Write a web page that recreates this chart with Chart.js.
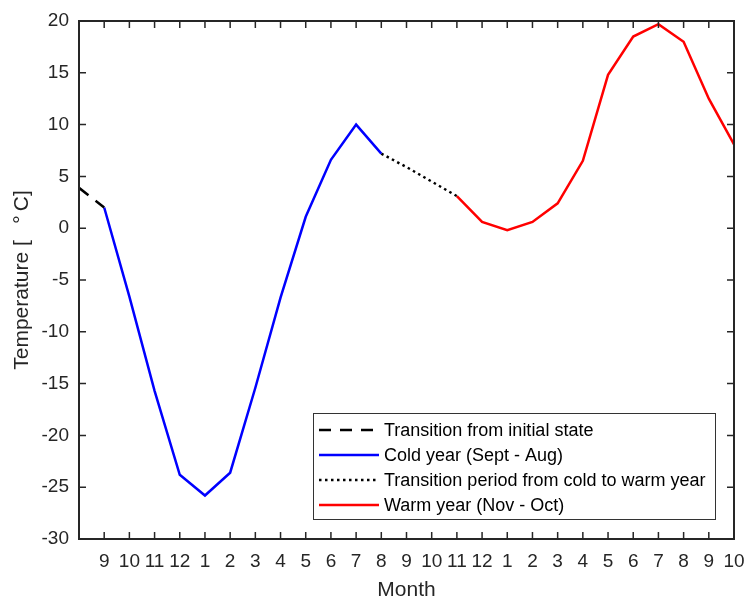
<!DOCTYPE html>
<html><head><meta charset="utf-8">
<script src="https://cdn.jsdelivr.net/npm/chart.js@4.4.0/dist/chart.umd.min.js"></script>
<style>html,body{margin:0;padding:0;background:#fff}#wrap{width:745px;height:598px;position:relative}</style>
</head><body><div id="wrap"><canvas id="c" width="745" height="598"></canvas></div>
<script>
// ---- data ----
const monthTicks = [9,10,11,12,1,2,3,4,5,6,7,8,9,10,11,12,1,2,3,4,5,6,7,8,9,10];
const initialX = [-1, 0];
const initialTemp = [3.9, 2.0];
const coldX = [0,1,2,3,4,5,6,7,8,9,10,11];
const coldTemp = [2.0,-6.6,-15.7,-23.8,-25.8,-23.6,-15.4,-6.7,1.1,6.6,10.0,7.2];
const transX = [11,12,13,14];
const transTemp = [7.2,5.9,4.5,3.1];
const warmX = [14,15,16,17,18,19,20,21,22,23,24,25];
const warmTemp = [3.1,0.6,-0.2,0.6,2.4,6.5,14.8,18.5,19.7,18.0,12.5,8.1];
const yTickValues = [20,15,10,5,0,-5,-10,-15,-20,-25,-30];
const legendLabels = ['Transition from initial state','Cold year (Sept - Aug)','Transition period from cold to warm year','Warm year (Nov - Oct)'];

const AX = '#262626';
const FONT = 'Liberation Sans, Arial, Helvetica, sans-serif';
const pts = (xs, ys) => xs.map((x, i) => ({x, y: ys[i]}));

const frame = {
  id: 'frame',
  afterDatasetsDraw(chart) {
    const {ctx, chartArea: a, scales: {x, y}} = chart;
    ctx.save();
    ctx.strokeStyle = AX; ctx.lineWidth = 2;
    ctx.strokeRect(a.left, a.top, a.right - a.left, a.bottom - a.top);
    ctx.lineWidth = 1.5;
    ctx.beginPath();
    const tl = 7;
    for (let i = 0; i < monthTicks.length; i++) {
      const px = x.getPixelForValue(i);
      ctx.moveTo(px, a.bottom); ctx.lineTo(px, a.bottom - tl);
      ctx.moveTo(px, a.top); ctx.lineTo(px, a.top + tl);
    }
    yTickValues.forEach(v => {
      const py = y.getPixelForValue(v);
      ctx.moveTo(a.left, py); ctx.lineTo(a.left + tl, py);
      ctx.moveTo(a.right, py); ctx.lineTo(a.right - tl, py);
    });
    ctx.stroke();
    ctx.restore();
  }
};

const legendBox = {
  id: 'legendBox',
  afterDraw(chart) {
    const {ctx} = chart;
    const ds = chart.data.datasets;
    const bx = 313, by = 413, bw = 402, bh = 106;
    ctx.save();
    ctx.fillStyle = '#fff';
    ctx.fillRect(bx, by, bw, bh);
    ctx.strokeStyle = '#333'; ctx.lineWidth = 1;
    ctx.strokeRect(bx + 0.5, by + 0.5, bw, bh);
    ctx.font = '18px ' + FONT;
    ctx.textBaseline = 'middle';
    ds.forEach((d, i) => {
      const cy = by + 17 + i * 25;
      ctx.beginPath();
      ctx.strokeStyle = d.borderColor;
      ctx.lineWidth = 2.5;
      ctx.setLineDash(d.borderDash || []);
      ctx.moveTo(319, cy); ctx.lineTo(379, cy);
      ctx.stroke();
      ctx.setLineDash([]);
      ctx.fillStyle = '#000';
      ctx.fillText(legendLabels[i], 384, cy + 1);
    });
    ctx.restore();
  }
};

new Chart(document.getElementById('c'), {
  type: 'line',
  data: {
    datasets: [
      {data: pts(initialX, initialTemp), borderColor: '#000', borderDash: [12, 9], borderWidth: 2.5},
      {data: pts(coldX, coldTemp), borderColor: '#0000ff', borderWidth: 2.5},
      {data: pts(transX, transTemp), borderColor: '#000', borderDash: [2.5, 3.5], borderWidth: 2.5},
      {data: pts(warmX, warmTemp), borderColor: '#ff0000', borderWidth: 2.5}
    ]
  },
  options: {
    responsive: false,
    animation: false,
    devicePixelRatio: 1,
    layout: {padding: {top: 21, right: 11, left: 0, bottom: 0}},
    elements: {point: {radius: 0}, line: {tension: 0, borderCapStyle: 'butt'}},
    plugins: {legend: {display: false}, tooltip: {enabled: false}},
    scales: {
      x: {
        type: 'linear', min: -1, max: 25,
        grid: {display: false, drawTicks: false},
        border: {display: false},
        afterBuildTicks(s) { s.ticks = monthTicks.map((m, i) => ({value: i})); },
        afterFit(s) { s.height = 59; s.paddingLeft = 0; s.paddingRight = 0; },
        ticks: {
          autoSkip: false, maxRotation: 0, padding: 11, color: AX,
          font: {family: FONT, size: 19},
          callback: (v) => monthTicks[v] !== undefined ? String(monthTicks[v]) : ''
        },
        title: {display: true, text: 'Month', color: AX, font: {family: FONT, size: 21}, padding: {top: 0, bottom: -5}}
      },
      y: {
        type: 'linear', min: -30, max: 20,
        grid: {display: false, drawTicks: false},
        border: {display: false},
        afterBuildTicks(s) { s.ticks = yTickValues.map(v => ({value: v})); },
        afterFit(s) { s.width = 79; s.paddingTop = 0; s.paddingBottom = 0; },
        ticks: {padding: 10, color: AX, font: {family: FONT, size: 19}},
        title: {display: true, text: 'Temperature [ \u2002°\u2009C]', color: AX, font: {family: FONT, size: 21}, padding: {top: 10, bottom: 0}}
      }
    }
  },
  plugins: [frame, legendBox]
});
</script></body></html>
